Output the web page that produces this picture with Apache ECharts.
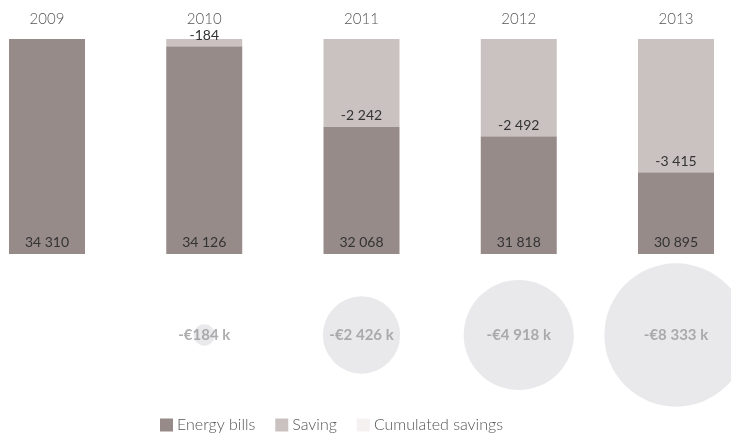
<!DOCTYPE html>
<html>
<head>
<meta charset="utf-8">
<script src="https://cdn.jsdelivr.net/npm/echarts@6/dist/echarts.min.js"></script>
<style>
  html, body { margin: 0; padding: 0; background: #fff; }
  #chart { width: 731px; height: 433px; }
</style>
</head>
<body>
<div id="chart"></div>
<script>
// data
const years = ["2009", "2010", "2011", "2012", "2013"];
const energyBills = [34310, 34126, 32068, 31818, 30895];
const saving = [null, 184, 2242, 2492, 3415];
const cumulated = [null, 184, 2426, 4918, 8333];

const fmt = v => String(v).replace(/\B(?=(\d{3})+(?!\d))/g, " ");

const chart = echarts.init(document.getElementById("chart"));

chart.setOption({
  animation: false,
  textStyle: { fontFamily: "Lato, 'Open Sans', sans-serif" },
  legend: {
    left: 155,
    top: 412,
    itemWidth: 13,
    itemHeight: 13,
    itemGap: 20,
    icon: "rect",
    textStyle: { color: "#555", fontSize: 16, fontWeight: 300, padding: [0, 0, 0, -1] },
    data: [
      "Energy bills",
      "Saving",
      { name: "Cumulated savings", itemStyle: { color: "#f3eeee" } }
    ]
  },
  grid: { left: 47, right: 55, top: 39, bottom: 179 },
  xAxis: {
    type: "category",
    position: "top",
    data: years,
    boundaryGap: false,
    axisLine: { show: false },
    axisTick: { show: false },
    axisLabel: { color: "#555", fontSize: 15, fontWeight: 300, margin: 12 }
  },
  yAxis: { type: "value", min: 28800, max: 34310, show: false },
  singleAxis: {
    type: "category",
    data: years,
    boundaryGap: false,
    left: 47,
    right: 55,
    top: 265,
    height: 140,
    axisLine: { show: false },
    axisTick: { show: false },
    axisLabel: { show: false },
    splitLine: { show: false }
  },
  series: [
    {
      name: "Energy bills",
      type: "bar",
      stack: "total",
      barWidth: 76,
      itemStyle: { color: "#968b89" },
      label: {
        show: true,
        position: "insideBottom",
        distance: 5,
        color: "#333",
        fontSize: 14,
        formatter: p => fmt(p.value)
      },
      data: energyBills
    },
    {
      name: "Saving",
      type: "bar",
      stack: "total",
      barWidth: 76,
      itemStyle: { color: "#c9c2c1" },
      label: {
        show: true,
        position: "insideBottom",
        distance: 4,
        color: "#333",
        fontSize: 14,
        formatter: p => "-" + fmt(p.value)
      },
      data: saving
    },
    {
      name: "Cumulated savings",
      type: "scatter",
      coordinateSystem: "singleAxis",
      symbol: "circle",
      symbolSize: v => Math.sqrt(v[1]) * 1.57,
      itemStyle: { color: "#e4e4e6" },
      label: {
        show: true,
        position: "inside",
        color: "#9a9a9a",
        fontSize: 15,
        fontWeight: "bold",
        formatter: p => "-€" + fmt(p.value[1]) + " k"
      },
      data: cumulated.map((v, i) => [i, v]).filter(d => d[1] != null)
    }
  ]
});
</script>
</body>
</html>
